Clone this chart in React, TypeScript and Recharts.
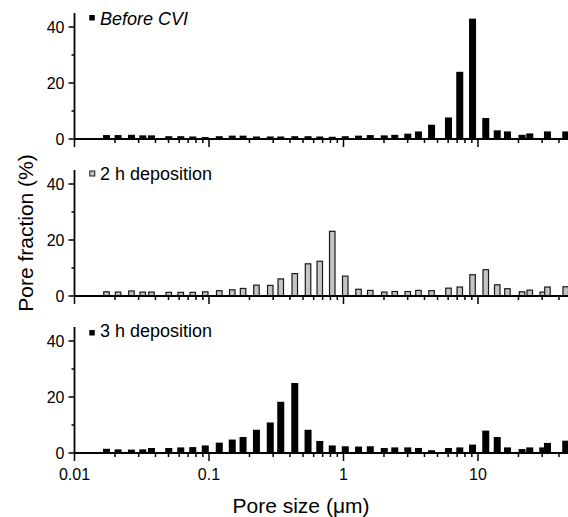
import React from 'react';
import { BarChart, Bar, XAxis, YAxis } from 'recharts';

const poreSizes = [
  0.01736, 0.02117, 0.02663, 0.03232, 0.0375, 0.05042, 0.06191, 0.07603, 0.09419, 0.1197,
  0.1495, 0.1799, 0.2262, 0.2866, 0.343, 0.436, 0.5473, 0.6689, 0.8284, 1.035,
  1.299, 1.588, 2.017, 2.415, 3.017, 3.623, 4.535, 6.056, 7.349, 9.148,
  11.47, 13.96, 16.63, 21.35, 24.36, 30.43, 32.98, 45.1,
];

const beforeCVI = [
  1.4, 1.4, 1.5, 1.3, 1.3, 1.0, 1.0, 0.9, 0.7, 1.0,
  1.2, 1.2, 0.9, 0.9, 0.9, 1.0, 1.0, 0.9, 0.8, 1.0,
  1.2, 1.4, 1.3, 1.5, 1.9, 2.7, 5.1, 7.7, 24, 43,
  7.5, 3.1, 2.7, 1.5, 2.0, 0, 2.7, 2.7,
];

const deposition2h = [
  1.5, 1.4, 1.8, 1.4, 1.4, 1.3, 1.3, 1.3, 1.5, 1.9,
  2.2, 2.7, 3.9, 3.8, 6.1, 8.0, 11.5, 12.4, 23.1, 7.1,
  2.4, 2.0, 1.4, 1.6, 1.6, 2.0, 1.9, 2.8, 3.2, 7.6,
  9.4, 4.0, 2.6, 1.5, 2.1, 1.4, 3.2, 3.3,
];

const deposition3h = [
  1.5, 1.3, 1.2, 1.3, 1.8, 1.8, 2.0, 2.1, 2.7, 3.7,
  4.8, 5.7, 8.3, 10.9, 18.3, 25.0, 8.3, 4.3, 2.7, 2.4,
  2.3, 2.4, 1.8, 2.0, 2.0, 1.8, 1.0, 1.8, 2.0, 3.0,
  8.0, 5.7, 2.0, 1.4, 2.0, 2.0, 3.6, 4.4,
];

const xTicks = [
  0.01, 0.02, 0.03, 0.04, 0.05, 0.06, 0.07, 0.08, 0.09,
  0.1, 0.2, 0.3, 0.4, 0.5, 0.6, 0.7, 0.8, 0.9,
  1, 2, 3, 4, 5, 6, 7, 8, 9,
  10, 20, 30, 40,
];
const xMajorTicks = [0.01, 0.1, 1, 10];
const xTickLabels = ['0.01', '0.1', '1', '10'];
const yTicks = [0, 10, 20, 30, 40];
const yLabeledTicks = [0, 20, 40];

const seriesNames = ['Before CVI', '2 h deposition', '3 h deposition'];
const xTitle = 'Pore size (\u03bcm)';
const yTitle = 'Pore fraction (%)';

const rows = poreSizes.map((s, i) => ({
  size: s,
  before: beforeCVI[i],
  h2: deposition2h[i],
  h3: deposition3h[i],
}));

const FONT = '"Liberation Sans", Arial, Helvetica, sans-serif';

const makeXTick = (showLabels: boolean) => (props: any) => {
  const { x, y, payload } = props;
  const v = payload.value;
  const idx = xMajorTicks.findIndex((m) => Math.abs(m - v) / m < 1e-6);
  const major = idx >= 0;
  return (
    <g>
      <line x1={x} x2={x} y1={y} y2={y + (major ? 8 : 4)} stroke="#000" strokeWidth={1.5} />
      {major && showLabels && (
        <text x={x} y={y + 27} textAnchor="middle" fontSize={16} fontFamily={FONT} fill="#000">
          {xTickLabels[idx]}
        </text>
      )}
    </g>
  );
};

const YTick = (props: any) => {
  const { x, y, payload } = props;
  const v = payload.value;
  const labeled = yLabeledTicks.includes(v);
  return (
    <g>
      <line x1={x - (labeled ? 6 : 3)} x2={x} y1={y} y2={y} stroke="#000" strokeWidth={1.5} />
      {labeled && (
        <text x={x - 10} y={y} dy="0.36em" textAnchor="end" fontSize={16} fontFamily={FONT} fill="#000">
          {v}
        </text>
      )}
    </g>
  );
};

const makeBarShape = (w: number, sw: number) => (props: any) => {
  const { x, y, width, height, fill, stroke } = props;
  if (!height || height <= 0) return <g />;
  const cx = x + width / 2;
  return (
    <rect
      x={cx - w / 2}
      y={y}
      width={w}
      height={height}
      fill={fill}
      stroke={stroke}
      strokeWidth={sw}
    />
  );
};

const PLOT_H = 126;
const TOP_M = 13;

function Panel({
  top,
  dataKey,
  fill,
  stroke,
  showLabels,
  shape,
}: {
  top: number;
  dataKey: string;
  fill: string;
  stroke: string;
  showLabels: boolean;
  shape: any;
}) {
  const xH = showLabels ? 32 : 12;
  return (
    <div style={{ position: 'absolute', left: 0, top }}>
      <BarChart
        width={572}
        height={TOP_M + PLOT_H + xH}
        data={rows}
        margin={{ top: TOP_M, right: 0, bottom: 0, left: 0 }}
      >
        <XAxis
          dataKey="size"
          type="number"
          scale="log"
          domain={[0.01, 50]}
          allowDataOverflow
          ticks={xTicks}
          interval={0}
          tickSize={0}
          tickMargin={0}
          tickLine={false}
          axisLine={{ stroke: '#000', strokeWidth: 1.8 }}
          tick={makeXTick(showLabels)}
          height={xH}
        />
        <YAxis
          type="number"
          domain={[0, 45]}
          ticks={yTicks}
          interval={0}
          tickSize={0}
          tickMargin={0}
          tickLine={false}
          axisLine={{ stroke: '#000', strokeWidth: 1.8 }}
          tick={YTick}
          width={74.5}
        />
        <Bar
          dataKey={dataKey}
          fill={fill}
          stroke={stroke}
          barSize={6}
          shape={shape}
          isAnimationActive={false}
        />
      </BarChart>
    </div>
  );
}

export default function App() {
  return (
    <div
      style={{
        position: 'absolute',
        left: 0,
        top: 0,
        width: 568,
        height: 517,
        overflow: 'hidden',
        background: '#fff',
      }}
    >
      <Panel top={0} dataKey="before" fill="#000" stroke="none" showLabels={false} shape={makeBarShape(7, 0)} />
      <Panel top={157} dataKey="h2" fill="#c4c4c4" stroke="#1a1a1a" showLabels={false} shape={makeBarShape(5.5, 1.2)} />
      <Panel top={314} dataKey="h3" fill="#000" stroke="none" showLabels={true} shape={makeBarShape(7, 0)} />
      <svg
        width={568}
        height={517}
        style={{ position: 'absolute', left: 0, top: 0, pointerEvents: 'none' }}
      >
        <rect x={89.3} y={15} width={5.5} height={5.5} fill="#000" />
        <text x={100} y={25} fontSize={18} fontStyle="italic" fontFamily={FONT} fill="#000">
          {seriesNames[0]}
        </text>
        <rect x={89.8} y={171} width={5} height={5} fill="#c4c4c4" stroke="#1a1a1a" strokeWidth={1} />
        <text x={100} y={179.5} fontSize={18} fontFamily={FONT} fill="#000">
          {seriesNames[1]}
        </text>
        <rect x={89.3} y={330} width={5.5} height={5.5} fill="#000" />
        <text x={100} y={337} fontSize={18} fontFamily={FONT} fill="#000">
          {seriesNames[2]}
        </text>
        <text x={301} y={513} textAnchor="middle" fontSize={21} fontFamily={FONT} fill="#000">
          {xTitle}
        </text>
        <text
          x={0}
          y={0}
          transform="translate(33,233) rotate(-90)"
          textAnchor="middle"
          fontSize={21}
          fontFamily={FONT}
          fill="#000"
        >
          {yTitle}
        </text>
      </svg>
    </div>
  );
}
